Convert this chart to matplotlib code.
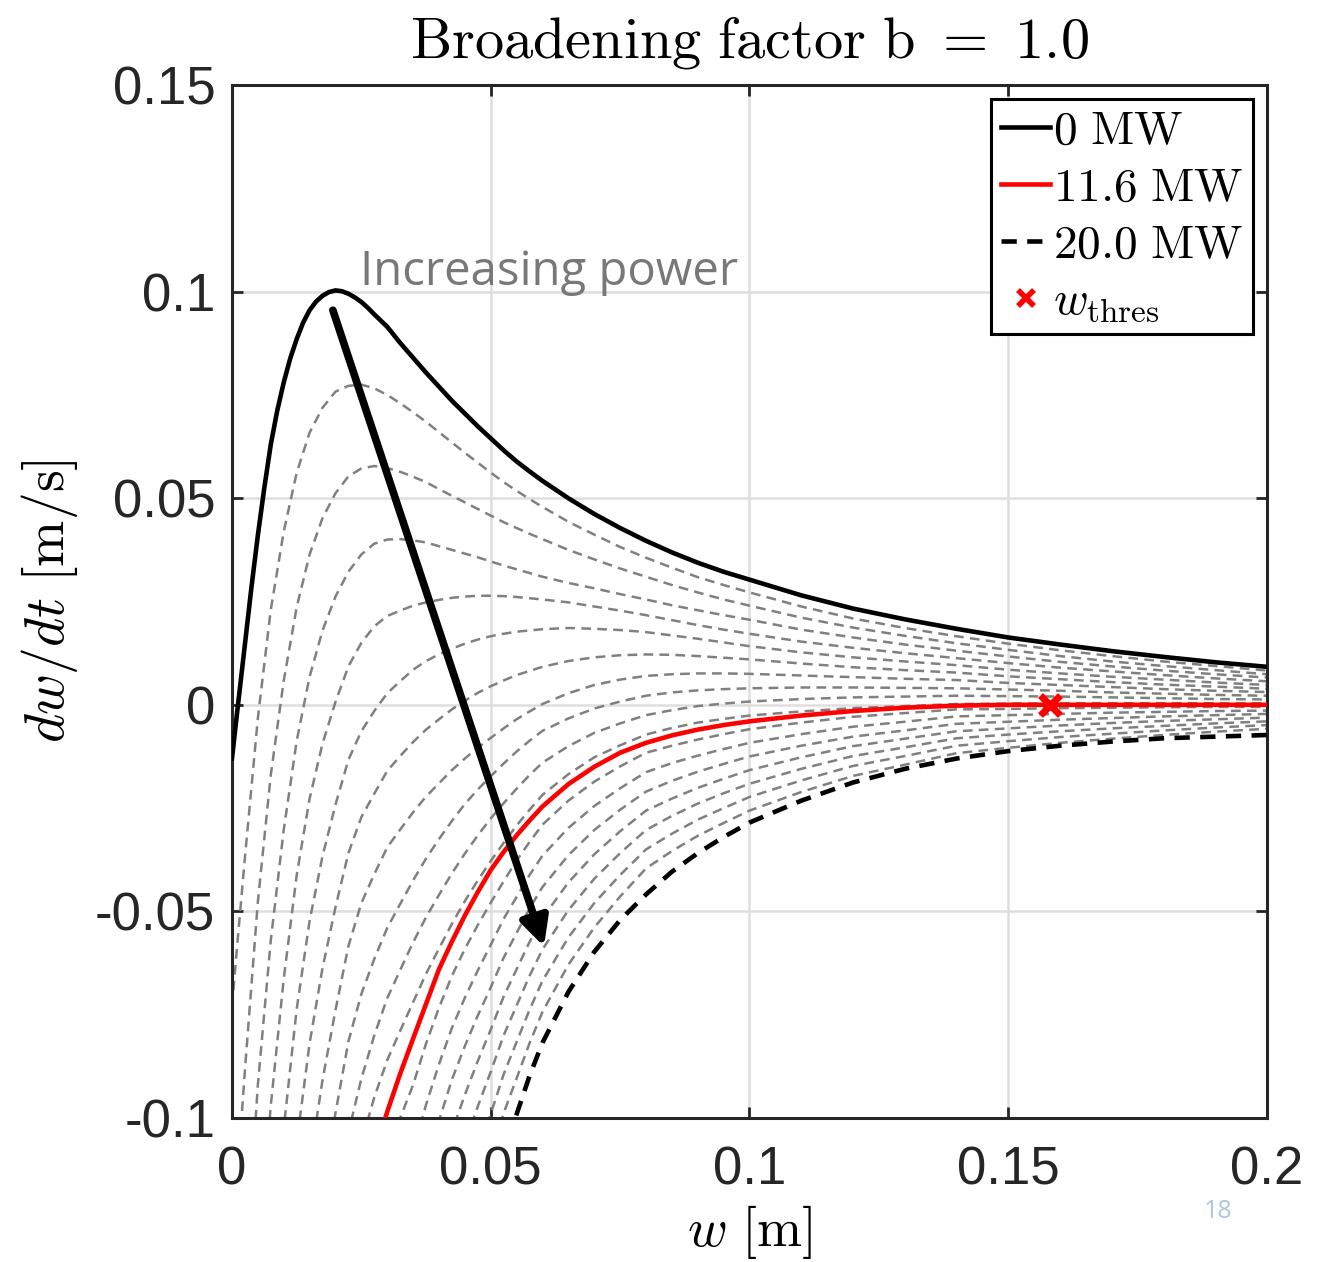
import matplotlib
matplotlib.use('Agg')
import matplotlib.pyplot as plt
from matplotlib.lines import Line2D

plt.rcParams['mathtext.fontset'] = 'cm'
plt.rcParams['lines.scale_dashes'] = False

# island width samples [m]
w = [0, 0.001, 0.0025, 0.005, 0.0075, 0.01, 0.0125, 0.015, 0.0175, 0.02,
     0.0225, 0.025, 0.0275, 0.03, 0.0325, 0.035, 0.0375, 0.04, 0.0425, 0.045,
     0.0475, 0.05, 0.0525, 0.055, 0.0575, 0.06, 0.065, 0.07, 0.075, 0.08,
     0.085, 0.09, 0.095, 0.1, 0.11, 0.12, 0.13, 0.14, 0.15, 0.16,
     0.17, 0.18, 0.19, 0.2]

# 0 MW curve, sampled a bit finer around its peak
w_0mw = [0, 0.0005, 0.001, 0.0025, 0.00375, 0.005, 0.00625, 0.0075, 0.00875, 0.01,
         0.01125, 0.0125, 0.01375, 0.015, 0.01625, 0.0175, 0.01875, 0.02, 0.02125, 0.0225,
         0.02375, 0.025, 0.02625, 0.0275, 0.02875, 0.03, 0.0325, 0.035, 0.0375, 0.04,
         0.0425, 0.045, 0.0475, 0.05, 0.0525, 0.055, 0.0575, 0.06, 0.065, 0.07,
         0.075, 0.08, 0.085, 0.09, 0.095, 0.1, 0.11, 0.12, 0.13, 0.14,
         0.15, 0.16, 0.17, 0.18, 0.19, 0.2]
p_0mw = [-0.013, -0.0074, -0.0018, 0.0146, 0.0283, 0.041, 0.0525, 0.063, 0.0712, 0.078,
         0.0838, 0.0885, 0.0925, 0.0955, 0.0976, 0.099, 0.0999, 0.1003, 0.1001, 0.0995,
         0.0986, 0.0975, 0.0961, 0.0945, 0.093, 0.0915, 0.0876, 0.084, 0.0804, 0.077,
         0.0736, 0.0705, 0.0674, 0.0645, 0.0616, 0.0589, 0.0565, 0.0542, 0.05, 0.0462,
         0.0428, 0.0397, 0.0369, 0.0344, 0.0322, 0.0303, 0.0265, 0.0233, 0.0207, 0.0184,
         0.0163, 0.0146, 0.013, 0.0116, 0.0103, 0.0092]

p_116mw = [-0.6394, -0.5922, -0.5236, -0.4218, -0.3546, -0.299, -0.2502, -0.2131, -0.184, -0.1595,
           -0.136, -0.1194, -0.1085, -0.0985, -0.0893, -0.0808, -0.0724, -0.064, -0.0573, -0.051,
           -0.0453, -0.04, -0.0356, -0.0316, -0.028, -0.0246, -0.0192, -0.015, -0.0116, -0.0092,
           -0.0074, -0.006, -0.0049, -0.004, -0.0026, -0.0015, -0.0007, -0.0002, 0.0, 0.0,
           0.0, 0.0, 0.0, 0.0]

p_20mw = [-1.093, -1.0198, -0.9134, -0.757, -0.657, -0.572, -0.4955, -0.4365, -0.389, -0.3477,
          -0.3065, -0.2765, -0.2555, -0.2365, -0.2202, -0.204, -0.185, -0.169, -0.1535, -0.1415,
          -0.1298, -0.1195, -0.1082, -0.0991, -0.0898, -0.0818, -0.0695, -0.0598, -0.0521, -0.0459,
          -0.0404, -0.0359, -0.032, -0.0285, -0.0232, -0.0188, -0.0155, -0.013, -0.0112, -0.0099,
          -0.0089, -0.0081, -0.0077, -0.0073]

# intermediate powers (grey dashed), lowest power first
g01 = [-0.073, -0.0584, -0.037, -0.0033, 0.023, 0.0419, 0.0561, 0.0659, 0.0719, 0.0758,
       0.0772, 0.0775, 0.0766, 0.075, 0.073, 0.0708, 0.0685, 0.066, 0.0635, 0.061,
       0.0586, 0.0562, 0.0539, 0.0518, 0.0498, 0.0479, 0.0443, 0.0412, 0.0382, 0.0356,
       0.0332, 0.0309, 0.029, 0.0272, 0.0238, 0.0209, 0.0186, 0.0166, 0.0148, 0.0132,
       0.0118, 0.0105, 0.0094, 0.0083]
g02 = [-0.133, -0.1149, -0.0885, -0.0477, -0.017, 0.0058, 0.0236, 0.0364, 0.0452, 0.0512,
       0.0553, 0.0572, 0.0578, 0.0573, 0.0564, 0.0552, 0.0539, 0.0522, 0.0506, 0.049,
       0.0474, 0.0458, 0.0442, 0.0428, 0.0414, 0.0401, 0.0375, 0.0352, 0.033, 0.031,
       0.029, 0.0272, 0.0255, 0.024, 0.0211, 0.0187, 0.0167, 0.0149, 0.0133, 0.0118,
       0.0105, 0.0094, 0.0084, 0.0074]
g03 = [-0.193, -0.1715, -0.1401, -0.092, -0.057, -0.0303, -0.0088, 0.0068, 0.018, 0.0262,
       0.0322, 0.0364, 0.039, 0.04, 0.0401, 0.0398, 0.0393, 0.0384, 0.0375, 0.0366,
       0.0357, 0.0347, 0.0337, 0.0328, 0.0319, 0.031, 0.0295, 0.0282, 0.0268, 0.0255,
       0.0241, 0.0229, 0.0217, 0.0206, 0.0182, 0.0163, 0.0146, 0.0131, 0.0117, 0.0104,
       0.0093, 0.0083, 0.0074, 0.0066]
g04 = [-0.253, -0.228, -0.1916, -0.1363, -0.097, -0.0664, -0.0413, -0.0227, -0.0094, 0.0007,
       0.0093, 0.015, 0.019, 0.0215, 0.0228, 0.024, 0.0248, 0.0254, 0.0259, 0.0262,
       0.0264, 0.0264, 0.0263, 0.0261, 0.0258, 0.0255, 0.0248, 0.0238, 0.0228, 0.0217,
       0.0205, 0.0193, 0.0182, 0.0172, 0.0153, 0.0138, 0.0125, 0.0113, 0.0101, 0.009,
       0.0081, 0.0072, 0.0064, 0.0057]
g05 = [-0.313, -0.2846, -0.2432, -0.1807, -0.137, -0.1026, -0.0737, -0.0523, -0.0366, -0.0242,
       -0.0133, -0.0064, -0.0015, 0.0028, 0.0057, 0.0085, 0.0106, 0.0122, 0.0136, 0.0148,
       0.0158, 0.0166, 0.0172, 0.0177, 0.018, 0.0183, 0.0186, 0.0184, 0.0181, 0.0176,
       0.0168, 0.016, 0.0151, 0.0142, 0.0127, 0.0115, 0.0105, 0.0096, 0.0085, 0.0076,
       0.0068, 0.0061, 0.0054, 0.0048]
g06 = [-0.373, -0.3412, -0.2948, -0.225, -0.177, -0.1387, -0.1061, -0.0819, -0.0637, -0.049,
       -0.0359, -0.0272, -0.0215, -0.016, -0.0124, -0.009, -0.006, -0.0035, -0.0011, 0.001,
       0.0029, 0.0045, 0.0059, 0.0072, 0.0082, 0.0092, 0.0106, 0.0115, 0.012, 0.0122,
       0.0121, 0.0118, 0.0114, 0.011, 0.01, 0.0091, 0.0084, 0.0078, 0.0069, 0.0062,
       0.0055, 0.0049, 0.0044, 0.0039]
g07 = [-0.433, -0.3977, -0.3463, -0.2693, -0.217, -0.1748, -0.1386, -0.1114, -0.0908, -0.0739,
       -0.0584, -0.048, -0.041, -0.0345, -0.0302, -0.026, -0.0222, -0.019, -0.0158, -0.013,
       -0.0104, -0.008, -0.0057, -0.0035, -0.0016, 0.0002, 0.0028, 0.0048, 0.0061, 0.007,
       0.0074, 0.0076, 0.0076, 0.0075, 0.0071, 0.0067, 0.0063, 0.006, 0.0053, 0.0048,
       0.0043, 0.0038, 0.0034, 0.0031]
g08 = [-0.493, -0.4543, -0.3979, -0.3136, -0.257, -0.2109, -0.171, -0.141, -0.1179, -0.0988,
       -0.0815, -0.07, -0.0615, -0.054, -0.0482, -0.0425, -0.0372, -0.0325, -0.0281, -0.024,
       -0.0205, -0.0173, -0.0142, -0.0113, -0.0087, -0.0063, -0.0033, -0.0009, 0.0008, 0.0022,
       0.003, 0.0035, 0.0038, 0.004, 0.0042, 0.0042, 0.0041, 0.004, 0.0037, 0.0034,
       0.003, 0.0027, 0.0024, 0.0022]
g09 = [-0.553, -0.5108, -0.4494, -0.358, -0.297, -0.247, -0.2035, -0.1705, -0.145, -0.1237,
       -0.1035, -0.0905, -0.08, -0.071, -0.0642, -0.0575, -0.0514, -0.046, -0.0408, -0.036,
       -0.0316, -0.0275, -0.0238, -0.0203, -0.017, -0.014, -0.01, -0.0068, -0.0045, -0.0025,
       -0.0013, -0.0003, 0.0003, 0.0008, 0.0014, 0.0018, 0.002, 0.0022, 0.0021, 0.002,
       0.0018, 0.0016, 0.0014, 0.0013]
g10 = [-0.613, -0.5674, -0.501, -0.4023, -0.337, -0.2831, -0.2359, -0.2001, -0.1721, -0.147,
       -0.1215, -0.106, -0.095, -0.086, -0.0789, -0.072, -0.0651, -0.059, -0.053, -0.0475,
       -0.0425, -0.0378, -0.0334, -0.0292, -0.0254, -0.0218, -0.0168, -0.0127, -0.0098, -0.0072,
       -0.0056, -0.0043, -0.0034, -0.0026, -0.0016, -0.0008, -0.0003, 0.0002, 0.0003, 0.0004,
       0.0004, 0.0004, 0.0004, 0.0004]
g11 = [-0.673, -0.624, -0.5526, -0.4466, -0.377, -0.3192, -0.2683, -0.2297, -0.1992, -0.1735,
       -0.1487, -0.132, -0.1195, -0.1089, -0.1, -0.092, -0.082, -0.0733, -0.0656, -0.0591,
       -0.0533, -0.0479, -0.0427, -0.0377, -0.0332, -0.029, -0.0232, -0.0186, -0.0149, -0.0116,
       -0.0099, -0.0084, -0.0071, -0.0059, -0.0043, -0.0029, -0.002, -0.0011, -0.001, -0.0008,
       -0.0007, -0.0006, -0.0005, -0.0005]
g12 = [-0.733, -0.6805, -0.6041, -0.491, -0.417, -0.3553, -0.3008, -0.2592, -0.2263, -0.1984,
       -0.1712, -0.1519, -0.1388, -0.1271, -0.1175, -0.108, -0.0968, -0.087, -0.0782, -0.0709,
       -0.0643, -0.0581, -0.0518, -0.0465, -0.0412, -0.0365, -0.0298, -0.0245, -0.0202, -0.0163,
       -0.0141, -0.0123, -0.0107, -0.0092, -0.0071, -0.0053, -0.0041, -0.0028, -0.0025, -0.0022,
       -0.0019, -0.0017, -0.0015, -0.0014]
g13 = [-0.793, -0.7371, -0.6557, -0.5353, -0.457, -0.3914, -0.3332, -0.2888, -0.2534, -0.2233,
       -0.1938, -0.1726, -0.1583, -0.1454, -0.1347, -0.124, -0.1113, -0.1007, -0.0907, -0.0826,
       -0.0752, -0.0684, -0.0612, -0.0552, -0.0493, -0.0441, -0.0364, -0.0303, -0.0254, -0.021,
       -0.0184, -0.0162, -0.0143, -0.0125, -0.0099, -0.0077, -0.0062, -0.0046, -0.0041, -0.0036,
       -0.0032, -0.0028, -0.0025, -0.0022]
g14 = [-0.853, -0.7936, -0.7072, -0.5796, -0.497, -0.4276, -0.3657, -0.3183, -0.2805, -0.2482,
       -0.2163, -0.1934, -0.1777, -0.1636, -0.1518, -0.14, -0.126, -0.1143, -0.1033, -0.0944,
       -0.0862, -0.0786, -0.0706, -0.064, -0.0574, -0.0516, -0.043, -0.0362, -0.0306, -0.0256,
       -0.0227, -0.0201, -0.0179, -0.0158, -0.0127, -0.01, -0.0082, -0.0064, -0.0057, -0.005,
       -0.0044, -0.0039, -0.0035, -0.0031]
g15 = [-0.913, -0.8502, -0.7588, -0.624, -0.537, -0.4637, -0.3981, -0.3479, -0.3077, -0.2731,
       -0.2389, -0.2142, -0.1972, -0.1818, -0.1689, -0.156, -0.1408, -0.128, -0.116, -0.1062,
       -0.0972, -0.0888, -0.08, -0.0728, -0.0656, -0.0592, -0.0497, -0.0421, -0.0359, -0.0303,
       -0.0269, -0.0239, -0.0214, -0.0191, -0.0155, -0.0124, -0.0103, -0.0081, -0.0072, -0.0064,
       -0.0057, -0.0051, -0.0045, -0.004]
g16 = [-0.973, -0.9068, -0.8104, -0.6683, -0.577, -0.4998, -0.4305, -0.3775, -0.3348, -0.298,
       -0.2615, -0.235, -0.2166, -0.2, -0.186, -0.172, -0.1555, -0.1417, -0.1286, -0.118,
       -0.1082, -0.099, -0.0894, -0.0816, -0.0738, -0.0668, -0.0563, -0.048, -0.0412, -0.035,
       -0.0312, -0.0278, -0.025, -0.0223, -0.0183, -0.0148, -0.0124, -0.0099, -0.0088, -0.0078,
       -0.007, -0.0062, -0.0055, -0.0049]
g17 = [-1.033, -0.9633, -0.8619, -0.7126, -0.617, -0.5359, -0.463, -0.407, -0.3619, -0.3228,
       -0.284, -0.2558, -0.2361, -0.2182, -0.2031, -0.188, -0.1703, -0.1554, -0.1412, -0.1298,
       -0.119, -0.1092, -0.0988, -0.0904, -0.0819, -0.0743, -0.0629, -0.0539, -0.0464, -0.0396,
       -0.0354, -0.0317, -0.0286, -0.0256, -0.0211, -0.0172, -0.0145, -0.0117, -0.0104, -0.0092,
       -0.0082, -0.0073, -0.0065, -0.0058]
grey_curves = [g01, g02, g03, g04, g05, g06, g07, g08, g09, g10,
               g11, g12, g13, g14, g15, g16, g17]

w_thres = 0.158
xticks = [0, 0.05, 0.1, 0.15, 0.2]
xtick_labels = ['0', '0.05', '0.1', '0.15', '0.2']
yticks = [-0.1, -0.05, 0, 0.05, 0.1, 0.15]
ytick_labels = ['-0.1', '-0.05', '0', '0.05', '0.1', '0.15']
legend_labels = [r'$\mathrm{0\ MW}$', r'$\mathrm{11.6\ MW}$', r'$\mathrm{20.0\ MW}$', r'$w_{\rm thres}$']

fig = plt.figure(figsize=(13.27, 12.62), dpi=100)
ax = fig.add_axes([0.1748, 0.1141, 0.7800, 0.8185])

for g in grey_curves:
    ax.plot(w, g, color=(0.5, 0.5, 0.5), lw=1.8, dashes=(7, 4.5), zorder=2)

ax.plot(w_0mw, p_0mw, color='k', lw=3.3, zorder=3)
ax.plot(w, p_116mw, color='r', lw=3.3, zorder=3)
ax.plot(w, p_20mw, color='k', lw=3.3, dashes=(11, 7.5), zorder=3)
ax.plot([w_thres], [0], 'x', color='r', ms=15, mew=5, zorder=5)

# arrow + annotation
ax.annotate('', xy=(0.0603, -0.0585), xytext=(0.0195, 0.0955),
            arrowprops=dict(arrowstyle='-|>', color='k', lw=5.5,
                            mutation_scale=42, shrinkA=0, shrinkB=0), zorder=6)
ax.text(0.0247, 0.1048, 'Increasing power', color=(0.47, 0.47, 0.47),
        fontsize=34, family='Open Sans', va='center', ha='left')

ax.set_xlim(0, 0.2)
ax.set_ylim(-0.1, 0.15)
ax.set_xticks(xticks)
ax.set_xticklabels(xtick_labels)
ax.set_yticks(yticks)
ax.set_yticklabels(ytick_labels)
for lab in ax.get_xticklabels() + ax.get_yticklabels():
    lab.set_family('Liberation Sans')
    lab.set_fontsize(38)
    lab.set_color((0.15, 0.15, 0.15))
ax.tick_params(direction='in', length=8, width=2, top=True, right=True,
               color=(0.15, 0.15, 0.15))
ax.tick_params(axis='x', pad=20)
ax.tick_params(axis='y', pad=12)
for s in ax.spines.values():
    s.set_linewidth(2.2)
    s.set_color((0.15, 0.15, 0.15))
ax.grid(True, color=(0.87, 0.87, 0.87), lw=1.8)
ax.set_axisbelow(True)

ax.set_title(r'$\mathrm{Broadening\ factor\ b\ {=}\ 1.0}$', fontsize=42, pad=20)
ax.set_xlabel(r'$w\ [\mathrm{m}]$', fontsize=39)
ax.set_ylabel(r'$dw/dt\ [\mathrm{m/s}]$', fontsize=40)
ax.xaxis.set_label_coords(0.5, -0.082)
ax.yaxis.set_label_coords(-0.147, 0.5)

handles = [Line2D([], [], color='k', lw=3.3),
           Line2D([], [], color='r', lw=3.3),
           Line2D([], [], color='k', lw=3.3, dashes=(11, 7.5)),
           Line2D([], [], color='r', marker='x', ls='none', ms=12, mew=4)]
leg = ax.legend(handles, legend_labels, loc='upper right', fontsize=34,
                handlelength=1.05, handletextpad=0.05, labelspacing=0.25,
                borderpad=0.2, borderaxespad=0.3, fancybox=False,
                framealpha=1, edgecolor='k')
leg.get_frame().set_linewidth(2.2)

fig.text(1218 / 1327, 1 - 1212 / 1262, '18', color=(0.68, 0.78, 0.86),
         fontsize=18, family='Open Sans', ha='center', va='center')

fig.savefig('out.png', dpi=100)
